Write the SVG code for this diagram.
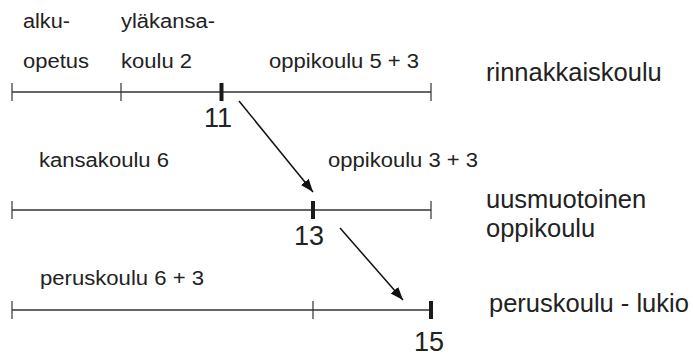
<svg xmlns="http://www.w3.org/2000/svg" width="693" height="357" viewBox="0 0 693 357">
  <style>
    .axis { stroke: #333; stroke-width: 1.3; fill: none; }
    .tick { stroke: #333; stroke-width: 1.2; }
    .mark { stroke: #1a1a1a; stroke-width: 4; }
    .lbl { font-family: "Liberation Sans", Arial, sans-serif; font-size: 20px; fill: #222; }
    .big { font-family: "Liberation Sans", Arial, sans-serif; font-size: 25.5px; fill: #222; }
    .num { font-family: "Liberation Sans", Arial, sans-serif; font-size: 27px; fill: #222; }
    .conn { stroke: #111; stroke-width: 1.5; fill: none; }
  </style>
  <defs>
    <marker id="arr" markerUnits="userSpaceOnUse" markerWidth="14" markerHeight="12" refX="13" refY="5" orient="auto">
      <path d="M0,0 L13,5 L0,10 Z" fill="#111"/>
    </marker>
  </defs>
  <rect width="693" height="357" fill="#fff"/>

  <g id="row-rinnakkaiskoulu">
    <line class="axis" x1="12" y1="92" x2="431" y2="92"/>
    <line class="tick" x1="12" y1="83" x2="12" y2="101"/>
    <line class="tick" x1="121" y1="83" x2="121" y2="101"/>
    <line class="tick" x1="431" y1="83" x2="431" y2="101"/>
    <text class="lbl" x="23" y="28" textLength="47" lengthAdjust="spacingAndGlyphs">alku-</text>
    <text class="lbl" x="23" y="68" textLength="66" lengthAdjust="spacingAndGlyphs">opetus</text>
    <text class="lbl" x="121" y="28" textLength="94" lengthAdjust="spacingAndGlyphs">yläkansa-</text>
    <text class="lbl" x="121" y="68" textLength="71" lengthAdjust="spacingAndGlyphs">koulu 2</text>
    <text class="lbl" x="269" y="68" textLength="150" lengthAdjust="spacingAndGlyphs">oppikoulu 5 + 3</text>
    <text class="big" x="486" y="81">rinnakkaiskoulu</text>
  </g>

  <g id="mark-11">
    <line class="mark" x1="221.5" y1="83" x2="221.5" y2="101"/>
    <text class="num" x="204" y="127">11</text>
  </g>

  <g id="row-uusmuotoinen">
    <line class="axis" x1="12" y1="210" x2="431" y2="210"/>
    <line class="tick" x1="12" y1="201" x2="12" y2="219"/>
    <line class="tick" x1="431" y1="201" x2="431" y2="219"/>
    <text class="lbl" x="39" y="167" textLength="130" lengthAdjust="spacingAndGlyphs">kansakoulu 6</text>
    <text class="lbl" x="328" y="167" textLength="150" lengthAdjust="spacingAndGlyphs">oppikoulu 3 + 3</text>
    <text class="big" x="486" y="208">uusmuotoinen</text>
    <text class="big" x="486" y="237">oppikoulu</text>
  </g>

  <g id="mark-13">
    <line class="mark" x1="313" y1="201" x2="313" y2="219"/>
    <text class="num" x="294" y="245">13</text>
  </g>

  <g id="row-peruskoulu">
    <line class="axis" x1="12" y1="310" x2="431" y2="310"/>
    <line class="tick" x1="12" y1="301" x2="12" y2="319"/>
    <line class="tick" x1="313" y1="301" x2="313" y2="319"/>
    <text class="lbl" x="40" y="285" textLength="164" lengthAdjust="spacingAndGlyphs">peruskoulu 6 + 3</text>
    <text class="big" x="489" y="312">peruskoulu - lukio</text>
  </g>

  <g id="mark-15">
    <line class="mark" x1="431" y1="301" x2="431" y2="319"/>
    <text class="num" x="414" y="351">15</text>
  </g>

  <g id="connectors">
    <line class="conn" x1="239" y1="101" x2="313" y2="192" marker-end="url(#arr)"/>
    <line class="conn" x1="340" y1="228" x2="403" y2="300" marker-end="url(#arr)"/>
  </g>
</svg>
